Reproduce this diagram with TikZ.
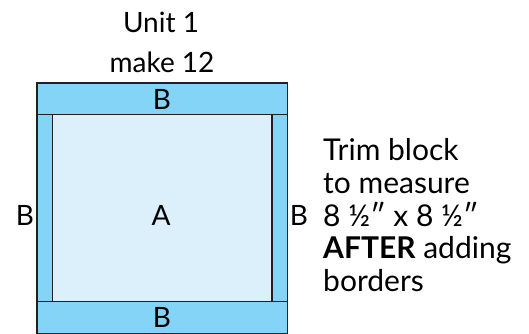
\documentclass[tikz,border=0pt]{standalone}
\usepackage{fontspec}
\setmainfont{Lato}
\definecolor{strip}{HTML}{84D4F7}
\definecolor{inner}{HTML}{DCF0FC}
\definecolor{edge}{HTML}{231F20}
\begin{document}
\begin{tikzpicture}[x=1pt,y=-1pt,
  piece/.style={draw=edge,line width=1.4pt},
  lbl/.style={font=\fontsize{28}{30}\selectfont,text=black,inner sep=0pt},
  txt/.style={font=\fontsize{30}{32}\selectfont,text=black,inner sep=0pt,anchor=base west}]
\useasboundingbox (0,0) rectangle (529,333);
% pieces
\filldraw[piece,fill=strip] (37,83) rectangle (287.5,114.5);
\filldraw[piece,fill=strip] (37,301.5) rectangle (287.5,334);
\filldraw[piece,fill=strip] (37,114.5) rectangle (52.5,301.5);
\filldraw[piece,fill=strip] (272,114.5) rectangle (287.5,301.5);
\filldraw[piece,fill=inner] (52.5,114.5) rectangle (272,301.5);
% labels
\node[lbl,anchor=base] (bt) at (162,109) {B};
\node[lbl,anchor=base] (bb) at (162,327) {B};
\node[lbl,anchor=base] (bl) at (25,225) {B};
\node[lbl,anchor=base] (br) at (299,225) {B};
\node[lbl,anchor=base] (a) at (161,225) {A};
\node[lbl,anchor=base] (u1) at (161,32) {Unit 1};
\node[lbl,anchor=base] (u2) at (162,72) {make 12};
% note
\node[txt] (n1) at (323,160.7) {Trim block};
\node[txt] (n2) at (323,193.3) {to measure};
\node[txt] (n3) at (323,226) {8 ½″ x 8 ½″};
\node[txt] (n4) at (323,258.5) {\textbf{AFTER} adding};
\node[txt] (n5) at (323,291) {borders};
\end{tikzpicture}
\end{document}
